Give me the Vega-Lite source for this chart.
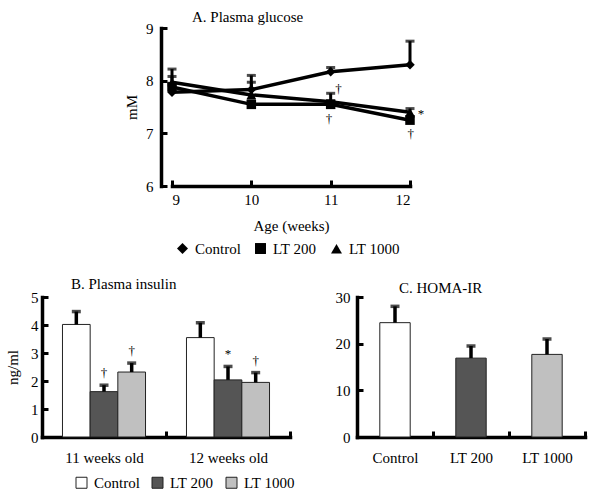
{
  "$schema": "https://vega.github.io/schema/vega-lite/v6.json",
  "background": "white",
  "padding": {"left": 5, "top": 10, "right": 5, "bottom": 5},
  "config": {
    "font": "Liberation Serif",
    "view": {"stroke": null},
    "axis": {
      "grid": false,
      "labelFont": "Liberation Serif", "labelFontSize": 15, "labelColor": "black",
      "titleFont": "Liberation Serif", "titleFontSize": 15, "titleFontWeight": "normal", "titleColor": "black",
      "domainColor": "black", "domainWidth": 3.5, "domainCap": "square",
      "tickColor": "black", "tickWidth": 3, "tickSize": -6, "labelPadding": 10
    },
    "legend": {"labelFont": "Liberation Serif", "labelFontSize": 15, "labelColor": "black"},
    "title": {"font": "Liberation Serif", "fontSize": 15, "fontWeight": "normal", "color": "black"}
  },
  "spacing": 20,
  "vconcat": [
    {
      "spacing": 0,
      "resolve": {"legend": {"shape": "independent"}, "scale": {"shape": "independent"}},
      "hconcat": [
        {"width": 82, "height": 10, "data": {"values": [{"s": 0}]}, "mark": {"type": "point", "opacity": 0}, "encoding": {}},
        {
          "width": 238, "height": 158,
          "title": {"text": "A. Plasma glucose", "anchor": "start", "frame": "group", "dx": 20, "offset": -4},
          "data": {"values": [
            {"week": 9, "group": "Control", "mean": 7.78, "err": 7.95},
            {"week": 9, "group": "LT 200", "mean": 7.88, "err": 8.08},
            {"week": 9, "group": "LT 1000", "mean": 7.97, "err": 8.22},
            {"week": 10, "group": "Control", "mean": 7.83, "err": 8.1},
            {"week": 10, "group": "LT 200", "mean": 7.55, "err": 7.62},
            {"week": 10, "group": "LT 1000", "mean": 7.73, "err": 7.97},
            {"week": 11, "group": "Control", "mean": 8.17, "err": 8.25},
            {"week": 11, "group": "LT 200", "mean": 7.55, "err": 7.62},
            {"week": 11, "group": "LT 1000", "mean": 7.6, "err": 7.76},
            {"week": 12, "group": "Control", "mean": 8.3, "err": 8.75},
            {"week": 12, "group": "LT 200", "mean": 7.25, "err": 7.32},
            {"week": 12, "group": "LT 1000", "mean": 7.4, "err": 7.47}
          ]},
          "encoding": {
            "x": {"field": "week", "type": "quantitative", "scale": {"domain": [9, 12], "nice": false, "zero": false},
                  "axis": {"values": [9, 10, 11, 12], "format": "d", "title": "Age (weeks)", "labelPadding": 12, "titlePadding": 11}},
            "y": {"field": "mean", "type": "quantitative", "scale": {"domain": [6, 9], "nice": false, "zero": false},
                  "axis": {"values": [6, 7, 8, 9], "title": "mM", "offset": 11, "labelPadding": 14, "titlePadding": 6}}
          },
          "layer": [
            {"mark": {"type": "rule", "strokeWidth": 3, "color": "black"}, "encoding": {"y2": {"field": "err"}}},
            {"mark": {"type": "tick", "orient": "horizontal", "size": 9, "thickness": 3, "color": "black"}, "encoding": {"y": {"field": "err", "type": "quantitative"}}},
            {"mark": {"type": "line", "strokeWidth": 3.5, "color": "black"}, "encoding": {"detail": {"field": "group"}}},
            {"mark": {"type": "point", "filled": true, "size": 90, "color": "black", "opacity": 1},
             "encoding": {"shape": {"field": "group", "type": "nominal",
               "scale": {"domain": ["Control", "LT 200", "LT 1000"], "range": ["diamond", "square", "triangle-up"]},
               "legend": {"title": null, "orient": "none", "direction": "horizontal", "legendX": 3, "legendY": 213, "symbolSize": 120, "symbolFillColor": "black", "symbolStrokeColor": "black", "columnPadding": 11, "labelOffset": 5}}}},
            {"data": {"values": [
              {"ax": 11.1, "ay": 7.84, "t": "†"},
              {"ax": 10.98, "ay": 7.28, "t": "†"},
              {"ax": 12.14, "ay": 7.36, "t": "*"},
              {"ax": 12.01, "ay": 6.99, "t": "†"}
            ]},
             "mark": {"type": "text", "fontSize": 13, "baseline": "middle", "color": "black"},
             "encoding": {"x": {"field": "ax", "type": "quantitative"}, "y": {"field": "ay", "type": "quantitative"}, "text": {"field": "t"}}}
          ]
        }
      ]
    },
    {
      "bounds": "flush",
      "spacing": 67,
      "resolve": {"scale": {"fill": "independent"}, "legend": {"fill": "independent"}},
      "hconcat": [
        {
          "width": 248, "height": 140,
          "title": {"text": "B. Plasma insulin", "anchor": "start", "frame": "group", "dx": 29, "offset": -2},
          "data": {"values": [
            {"age": "11 weeks old", "group": "Control", "mean": 4.02, "err": 4.48, "sig": ""},
            {"age": "11 weeks old", "group": "LT 200", "mean": 1.62, "err": 1.85, "sig": "†"},
            {"age": "11 weeks old", "group": "LT 1000", "mean": 2.32, "err": 2.64, "sig": "†"},
            {"age": "12 weeks old", "group": "Control", "mean": 3.55, "err": 4.08, "sig": ""},
            {"age": "12 weeks old", "group": "LT 200", "mean": 2.04, "err": 2.52, "sig": "*"},
            {"age": "12 weeks old", "group": "LT 1000", "mean": 1.95, "err": 2.3, "sig": "†"}
          ]},
          "encoding": {
            "x": {"field": "age", "type": "nominal", "scale": {"paddingInner": 0, "paddingOuter": 0},
                  "axis": {"title": null, "labelAngle": 0, "tickBand": "extent", "labelPadding": 19}},
            "xOffset": {"field": "group", "type": "nominal", "sort": ["Control", "LT 200", "LT 1000"], "scale": {"paddingInner": 0, "paddingOuter": 0.74}},
            "y": {"field": "mean", "type": "quantitative", "scale": {"domain": [0, 5], "nice": false},
                  "axis": {"values": [0, 1, 2, 3, 4, 5], "title": "ng/ml", "titlePadding": 10}}
          },
          "layer": [
            {"mark": {"type": "bar", "stroke": "#222222", "strokeWidth": 1},
             "encoding": {"fill": {"field": "group", "type": "nominal",
               "scale": {"domain": ["Control", "LT 200", "LT 1000"], "range": ["#ffffff", "#555555", "#c0c0c0"]},
               "legend": {"title": null, "orient": "none", "direction": "horizontal", "legendX": 32, "legendY": 178, "symbolType": "square", "symbolSize": 121, "symbolStrokeColor": "#222222", "symbolStrokeWidth": 1, "columnPadding": 10, "labelOffset": 5}}}},
            {"mark": {"type": "rule", "strokeWidth": 3.5, "color": "black"}, "encoding": {"y": {"field": "mean", "type": "quantitative"}, "y2": {"field": "err"}}},
            {"mark": {"type": "tick", "orient": "horizontal", "size": 9, "thickness": 3.5, "color": "black"}, "encoding": {"y": {"field": "err", "type": "quantitative"}}},
            {"mark": {"type": "text", "fontSize": 13, "baseline": "middle", "dy": -12, "color": "black"}, "encoding": {"y": {"field": "err", "type": "quantitative"}, "text": {"field": "sig"}}}
          ]
        },
        {
          "width": 228, "height": 140,
          "title": {"text": "C. HOMA-IR", "anchor": "start", "frame": "group", "dx": 42, "offset": -6},
          "data": {"values": [
            {"group": "Control", "mean": 24.5, "err": 28.0},
            {"group": "LT 200", "mean": 16.9, "err": 19.5},
            {"group": "LT 1000", "mean": 17.7, "err": 21.0}
          ]},
          "encoding": {
            "x": {"field": "group", "type": "nominal", "sort": ["Control", "LT 200", "LT 1000"], "scale": {"paddingInner": 0, "paddingOuter": 0},
                  "axis": {"title": null, "labelAngle": 0, "tickBand": "extent", "labelPadding": 19}},
            "y": {"field": "mean", "type": "quantitative", "scale": {"domain": [0, 30], "nice": false},
                  "axis": {"values": [0, 10, 20, 30], "title": null, "labelPadding": 13}}
          },
          "layer": [
            {"mark": {"type": "bar", "stroke": "#222222", "strokeWidth": 1, "width": {"band": 0.4}},
             "encoding": {"fill": {"field": "group", "type": "nominal",
               "scale": {"domain": ["Control", "LT 200", "LT 1000"], "range": ["#ffffff", "#555555", "#c0c0c0"]}, "legend": null}}},
            {"mark": {"type": "rule", "strokeWidth": 3.5, "color": "black"}, "encoding": {"y2": {"field": "err"}}},
            {"mark": {"type": "tick", "orient": "horizontal", "size": 9, "thickness": 3.5, "color": "black"}, "encoding": {"y": {"field": "err", "type": "quantitative"}}}
          ]
        }
      ]
    }
  ]
}
